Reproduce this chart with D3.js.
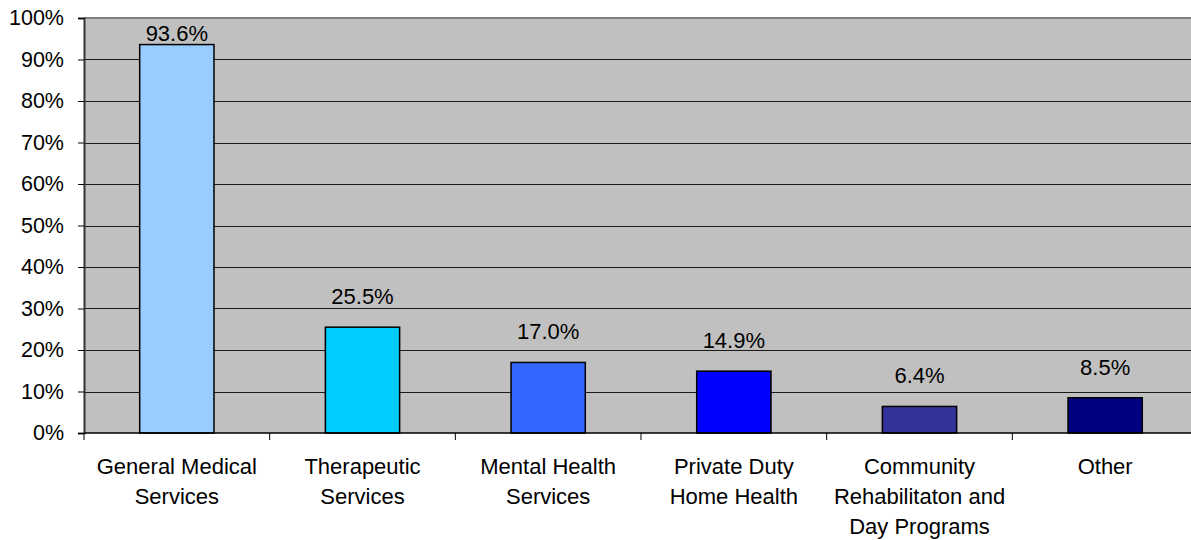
<!DOCTYPE html>
<html>
<head>
<meta charset="utf-8">
<script src="https://cdn.jsdelivr.net/npm/d3@7"></script>
<style>
  html, body { margin: 0; padding: 0; background: #fff; }
  svg { display: block; }
  text { font-family: "Liberation Sans", Arial, sans-serif; fill: #000; }
</style>
</head>
<body>
<svg id="chart" width="1191" height="540"></svg>
<script>
const categories = [
  ["General Medical", "Services"],
  ["Therapeutic", "Services"],
  ["Mental Health", "Services"],
  ["Private Duty", "Home Health"],
  ["Community", "Rehabilitaton and", "Day Programs"],
  ["Other"]
];
const values = [93.6, 25.5, 17.0, 14.9, 6.4, 8.5];
const barColors = ["#99CCFF", "#00CCFF", "#3366FF", "#0000FF", "#333399", "#000080"];
const yTicks = [0, 10, 20, 30, 40, 50, 60, 70, 80, 90, 100];

const svg = d3.select("#chart");
const m = { left: 84, top: 18, right: 1198, bottom: 433 };
const fontSize = 21.5;

const x = d3.scaleBand()
  .domain(d3.range(values.length))
  .range([m.left, m.right])
  .paddingInner(0.6)
  .paddingOuter(0.3);
const band = (m.right - m.left) / values.length;
const y = d3.scaleLinear().domain([0, 100]).range([m.bottom, m.top]);

// plot background
svg.append("rect")
  .attr("x", m.left).attr("y", m.top)
  .attr("width", m.right - m.left).attr("height", m.bottom - m.top)
  .attr("fill", "#C0C0C0");

// gridlines
svg.append("g").selectAll("line")
  .data(yTicks.filter(t => t > 0 && t < 100))
  .join("line")
  .attr("x1", m.left).attr("x2", m.right)
  .attr("y1", d => Math.round(y(d)) + 0.5).attr("y2", d => Math.round(y(d)) + 0.5)
  .attr("stroke", "#1a1a1a").attr("stroke-width", 1);

// top border
svg.append("line")
  .attr("x1", m.left).attr("x2", m.right)
  .attr("y1", m.top).attr("y2", m.top)
  .attr("stroke", "#808080").attr("stroke-width", 2);

// bars
svg.append("g").selectAll("rect")
  .data(values)
  .join("rect")
  .attr("x", (d, i) => x(i))
  .attr("width", x.bandwidth())
  .attr("y", d => y(d))
  .attr("height", d => y(0) - y(d))
  .attr("fill", (d, i) => barColors[i])
  .attr("stroke", "#000").attr("stroke-width", 1.5);

// y axis
const yAxis = d3.axisLeft(y)
  .tickValues(yTicks)
  .tickFormat(d => d + "%")
  .tickSize(6)
  .tickPadding(14);
const gy = svg.append("g").attr("transform", `translate(${m.left},0)`).call(yAxis);
gy.select(".domain").attr("stroke", "#333").attr("stroke-width", 2);
gy.selectAll(".tick line").attr("stroke", "#000");
gy.selectAll(".tick text")
  .style("font-family", '"Liberation Sans", Arial, sans-serif')
  .style("font-size", fontSize + "px").attr("fill", "#000");

// x axis baseline and ticks at category boundaries
svg.append("line")
  .attr("x1", m.left).attr("x2", m.right)
  .attr("y1", m.bottom).attr("y2", m.bottom)
  .attr("stroke", "#000").attr("stroke-width", 1.5);
svg.append("g").selectAll("line")
  .data(d3.range(values.length + 1))
  .join("line")
  .attr("x1", i => m.left + i * band).attr("x2", i => m.left + i * band)
  .attr("y1", m.bottom).attr("y2", m.bottom + 7)
  .attr("stroke", "#000").attr("stroke-width", 1);

// category labels
const cat = svg.append("g").selectAll("text")
  .data(categories)
  .join("text")
  .attr("text-anchor", "middle")
  .style("font-size", "22px")
  .attr("transform", (d, i) => `translate(${x(i) + x.bandwidth() / 2},0)`);
cat.selectAll("tspan")
  .data(d => d)
  .join("tspan")
  .attr("x", 0)
  .attr("y", (d, j) => m.bottom + 41 + j * 30)
  .text(d => d);

// value labels
svg.append("g").selectAll("text")
  .data(values)
  .join("text")
  .attr("text-anchor", "middle")
  .style("font-size", "22px")
  .attr("x", (d, i) => x(i) + x.bandwidth() / 2)
  .attr("y", d => Math.max(y(d) - 23, y(100) + 23))
  .text(d => d.toFixed(1) + "%");
</script>
</body>
</html>
